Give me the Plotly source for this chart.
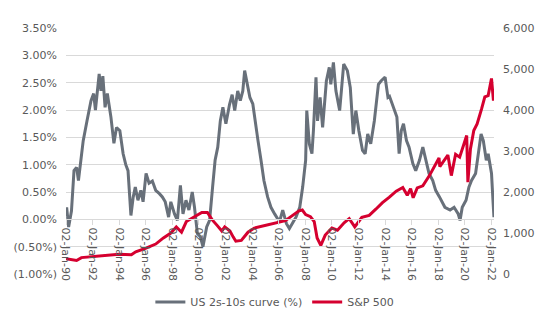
import plotly.graph_objects as go

curve_dates = ["1990-01-02","1990-01-20","1990-03-15","1990-06-01","1990-08-10","1990-10-20","1990-12-10","1991-02-10","1991-04-20",
 "1991-08-01","1991-11-20","1992-02-01","1992-03-20","1992-07-01","1992-08-20","1992-10-10","1992-12-10",
 "1993-02-10","1993-05-20","1993-08-10","1993-10-20","1994-01-20","1994-04-20","1994-07-01","1994-09-01",
 "1994-11-20","1995-01-20","1995-03-20","1995-06-01","1995-08-20","1995-10-20","1996-01-10","1996-04-01",
 "1996-07-01","1996-10-01","1997-01-10","1997-04-01","1997-06-20","1997-09-20","1997-11-20","1998-03-01",
 "1998-05-20","1998-08-10","1998-10-20","1999-01-10","1999-04-01","1999-07-01","1999-09-01","1999-11-20",
 "2000-02-10","2000-04-20","2000-08-01","2000-10-20","2001-01-10","2001-03-20","2001-06-01","2001-08-10",
 "2001-10-20","2002-01-10","2002-04-20","2002-07-01","2002-09-10","2002-12-01","2003-02-10","2003-04-20",
 "2003-06-10","2003-08-20","2003-11-01","2004-01-20","2004-03-20","2004-06-10","2004-09-01","2004-11-20",
 "2005-03-01","2005-06-01","2005-09-10","2005-12-01","2006-02-01","2006-04-20","2006-08-01","2006-10-20",
 "2007-02-01","2007-04-20","2007-08-01","2007-10-20","2008-01-10","2008-02-10","2008-04-20","2008-07-01",
 "2008-08-10","2008-10-20","2008-12-01","2009-02-10","2009-04-20","2009-08-01","2009-10-20","2009-12-01",
 "2010-02-10","2010-04-20","2010-08-01","2010-11-20","2011-03-01","2011-05-20","2011-08-10","2011-10-20",
 "2012-01-10","2012-04-20","2012-07-01","2012-09-10","2012-12-01","2013-03-10","2013-07-01","2013-09-10",
 "2013-12-31","2014-03-20","2014-05-01","2014-08-10","2014-11-20","2015-01-20","2015-03-20","2015-05-20",
 "2015-08-10","2015-10-20","2016-02-01","2016-04-20","2016-08-01","2016-11-01","2017-02-01","2017-04-20",
 "2017-08-01","2017-10-20","2018-02-01","2018-07-01","2018-11-20","2019-03-10","2019-07-01","2019-08-20",
 "2019-10-20","2020-02-01","2020-04-20","2020-07-01","2020-10-20","2021-01-10","2021-03-20","2021-05-20",
 "2021-08-10","2021-10-01","2022-01-01","2022-02-05","2022-03-08"]
curve_values = [0.05,0.22,-0.14,0.15,0.89,0.95,0.71,1.02,1.44,
 1.80,2.17,2.30,2.00,2.66,2.35,2.62,2.05,
 2.30,1.87,1.39,1.68,1.62,1.20,1.00,0.89,
 0.07,0.40,0.59,0.35,0.53,0.32,0.84,0.66,
 0.70,0.53,0.47,0.41,0.32,0.04,0.32,0.10,
 -0.02,0.62,0.10,0.35,0.17,0.50,0.22,-0.26,
 -0.32,-0.50,-0.14,-0.02,0.59,1.08,1.32,1.80,
 2.05,1.75,2.10,2.28,1.99,2.35,2.17,2.35,
 2.72,2.47,2.23,2.11,1.80,1.44,1.08,0.71,
 0.41,0.22,0.10,0.01,-0.02,0.17,-0.08,-0.17,
 -0.05,0.04,0.22,0.59,1.08,1.99,1.38,1.20,
 1.62,2.60,1.80,2.23,1.68,2.53,2.78,2.47,
 2.87,2.35,1.99,2.84,2.72,2.41,1.56,1.99,
 1.62,1.26,1.20,1.56,1.38,1.80,2.47,2.53,
 2.60,2.23,2.25,2.05,1.87,1.20,1.62,1.75,
 1.44,1.32,1.02,0.89,1.08,1.32,1.08,0.84,
 0.71,0.53,0.41,0.22,0.17,0.22,0.10,-0.02,
 0.22,0.35,0.59,0.71,0.84,1.20,1.56,1.44,
 1.08,1.20,0.84,0.40,0.04]

spx_dates = ["1990-01-02","1990-10-20","1991-03-01","1992-01-01","1993-01-01","1994-01-01","1994-12-01","1995-04-01",
 "1996-01-10","1996-10-01","1997-05-01","1997-11-20","1998-04-20","1998-09-10","1999-01-20","1999-08-01",
 "2000-03-20","2000-08-20","2001-01-01","2001-05-20","2001-09-20","2001-12-10","2002-05-01","2002-08-01",
 "2002-10-10","2003-03-10","2003-09-10","2004-03-01","2005-01-01","2005-10-20","2006-07-01","2006-12-01",
 "2007-07-10","2007-10-10","2008-01-10","2008-05-20","2008-09-01","2008-11-20","2009-03-01","2009-07-01",
 "2010-01-01","2010-06-01","2010-12-01","2011-04-20","2011-09-20","2012-04-01","2012-10-20","2013-04-20",
 "2013-10-20","2014-04-20","2014-11-01","2015-05-01","2015-09-01","2015-12-01","2016-02-10","2016-06-01",
 "2016-11-01","2017-05-01","2018-01-20","2018-02-10","2018-09-20","2018-12-24","2019-04-20","2019-08-10",
 "2019-12-01","2020-02-19","2020-03-23","2020-06-01","2020-09-01","2020-12-01","2021-04-01","2021-07-01",
 "2021-10-01","2021-12-31","2022-02-23","2022-03-08"]
spx_values = [370,330,400,420,450,480,470,540,
 630,730,880,1000,1150,1020,1280,1380,
 1500,1500,1320,1180,1050,1150,1050,900,
 800,820,1020,1120,1180,1250,1300,1400,
 1540,1560,1450,1400,1280,880,700,950,
 1120,1070,1250,1350,1150,1380,1430,1580,
 1740,1870,2020,2110,1920,2080,1860,2100,
 2150,2400,2830,2620,2900,2400,2920,2850,
 3150,3380,2240,3050,3500,3660,4020,4320,
 4350,4770,4230,4300]

x_ticks = ["1990-01-02","1992-01-02","1994-01-02","1996-01-02","1998-01-02","2000-01-02","2002-01-02","2004-01-02",
 "2006-01-02","2008-01-02","2010-01-02","2012-01-02","2014-01-02","2016-01-02","2018-01-02","2020-01-02","2022-01-02"]
x_labels = ["02-Jan-90","02-Jan-92","02-Jan-94","02-Jan-96","02-Jan-98","02-Jan-00","02-Jan-02","02-Jan-04",
 "02-Jan-06","02-Jan-08","02-Jan-10","02-Jan-12","02-Jan-14","02-Jan-16","02-Jan-18","02-Jan-20","02-Jan-22"]
y_ticks = [-1.0,-0.5,0.0,0.5,1.0,1.5,2.0,2.5,3.0,3.5]
y_labels = ["(1.00%)","(0.50%)","0.00%","0.50%","1.00%","1.50%","2.00%","2.50%","3.00%","3.50%"]
y2_ticks = [0,1000,2000,3000,4000,5000,6000]
y2_labels = ["0","1,000","2,000","3,000","4,000","5,000","6,000"]

GRAY = "#68707a"
RED = "#d5002f"
TXT = "#595959"
GRID = "#d9d9d9"
FONT = "'DejaVu Sans', sans-serif"
FS = 11

fig = go.Figure()
fig.add_trace(go.Scatter(x=curve_dates, y=curve_values, mode="lines", name="US 2s-10s curve (%)",
                         line=dict(color=GRAY, width=3), yaxis="y"))
fig.add_trace(go.Scatter(x=spx_dates, y=spx_values, mode="lines", name="S&P 500",
                         line=dict(color=RED, width=3), yaxis="y2"))

fig.update_layout(
    width=550, height=330,
    margin=dict(l=66, r=56, t=28, b=56),
    paper_bgcolor="white", plot_bgcolor="white",
    font=dict(family=FONT, size=FS, color=TXT),
    showlegend=True,
    legend=dict(orientation="h", x=0.488, xanchor="center", y=-0.114, yanchor="middle",
                font=dict(family=FONT, size=FS, color=TXT), traceorder="normal"),
    xaxis=dict(type="date", range=["1990-01-02", "2022-03-10"], tickvals=x_ticks, ticktext=x_labels,
               tickangle=90, anchor="free", position=2/9, showgrid=False, showline=True,
               linecolor=GRID, linewidth=1, ticks="outside", ticklen=5, tickcolor=GRID,
               tickfont=dict(family=FONT, size=FS, color=TXT), zeroline=False),
    yaxis=dict(range=[-1.0, 3.5], tickvals=y_ticks, ticktext=y_labels, showgrid=True,
               gridcolor=GRID, gridwidth=1, zeroline=False, showline=False, ticks="",
               ticklabelstandoff=8, tickfont=dict(family=FONT, size=FS, color=TXT)),
    yaxis2=dict(range=[0, 6000], tickvals=y2_ticks, ticktext=y2_labels, overlaying="y", side="right",
                showgrid=False, zeroline=False, showline=False, ticks="", ticklabelstandoff=8,
                tickfont=dict(family=FONT, size=FS, color=TXT)),
)

fig.write_html("out.html")
